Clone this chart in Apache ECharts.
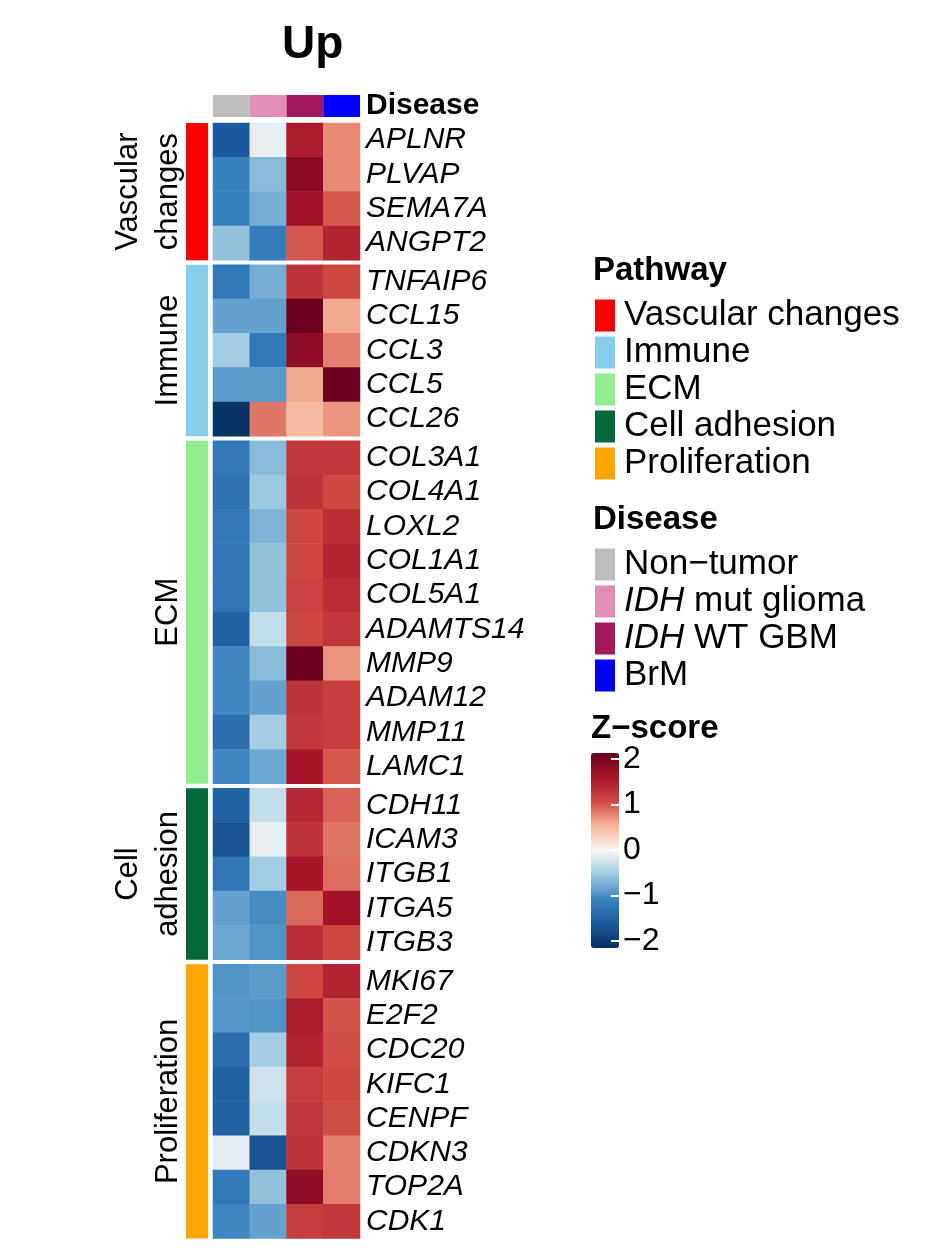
<!DOCTYPE html>
<html>
<head>
<meta charset="utf-8">
<script src="https://cdn.jsdelivr.net/npm/echarts@6/dist/echarts.min.js"></script>
<style>html,body{margin:0;padding:0;background:#fff}#c{width:931px;height:1250px}</style>
</head>
<body>
<div id="c"></div>
<script>
const diseases = ['Non\u2212tumor', 'IDH mut glioma', 'IDH WT GBM', 'BrM'];
const diseaseColors = ['#BEBEBE', '#E28DB5', '#A3195B', '#0000FF'];
const pathways = ['Vascular changes', 'Immune', 'ECM', 'Cell adhesion', 'Proliferation'];
const pathwayLabels = ['Vascular\nchanges', 'Immune', 'ECM', 'Cell\nadhesion', 'Proliferation'];
const pathwayColors = ['#FF0000', '#87CEEB', '#90EE90', '#03693A', '#FFA500'];

const vascularGenes = ['APLNR', 'PLVAP', 'SEMA7A', 'ANGPT2'];
const vascularValues = [
  [-1.6, -0.1, 1.55, 0.75],
  [-1.1, -0.65, 1.85, 0.75],
  [-1.1, -0.75, 1.65, 1.0],
  [-0.6, -1.15, 1.0, 1.45]
];
const immuneGenes = ['TNFAIP6', 'CCL15', 'CCL3', 'CCL5', 'CCL26'];
const immuneValues = [
  [-1.2, -0.75, 1.3, 1.1],
  [-0.85, -0.85, 2.1, 0.6],
  [-0.5, -1.2, 1.8, 0.8],
  [-0.9, -0.9, 0.6, 2.1],
  [-2.1, 0.85, 0.5, 0.7]
];
const ecmGenes = ['COL3A1', 'COL4A1', 'LOXL2', 'COL1A1', 'COL5A1', 'ADAMTS14', 'MMP9', 'ADAM12', 'MMP11', 'LAMC1'];
const ecmValues = [
  [-1.2, -0.65, 1.25, 1.25],
  [-1.3, -0.55, 1.3, 1.1],
  [-1.2, -0.7, 1.1, 1.35],
  [-1.25, -0.6, 1.1, 1.45],
  [-1.25, -0.6, 1.15, 1.35],
  [-1.5, -0.3, 1.1, 1.25],
  [-1.05, -0.65, 2.1, 0.7],
  [-1.05, -0.85, 1.3, 1.2],
  [-1.35, -0.5, 1.25, 1.2],
  [-1.05, -0.8, 1.6, 1.0]
];
const adhesionGenes = ['CDH11', 'ICAM3', 'ITGB1', 'ITGA5', 'ITGB3'];
const adhesionValues = [
  [-1.5, -0.3, 1.4, 0.95],
  [-1.7, -0.1, 1.3, 0.85],
  [-1.25, -0.5, 1.6, 0.9],
  [-0.85, -1.0, 0.92, 1.65],
  [-0.8, -0.95, 1.35, 1.1]
];
const prolifGenes = ['MKI67', 'E2F2', 'CDC20', 'KIFC1', 'CENPF', 'CDKN3', 'TOP2A', 'CDK1'];
const prolifValues = [
  [-0.95, -0.9, 1.1, 1.45],
  [-0.93, -0.95, 1.55, 1.02],
  [-1.35, -0.5, 1.45, 1.05],
  [-1.5, -0.25, 1.2, 1.08],
  [-1.5, -0.3, 1.25, 1.05],
  [-0.12, -1.7, 1.3, 0.8],
  [-1.2, -0.6, 1.8, 0.82],
  [-1.05, -0.85, 1.2, 1.25]
];
const colorbarTicks = [-2, -1, 0, 1, 2];

const groupGenes = [vascularGenes, immuneGenes, ecmGenes, adhesionGenes, prolifGenes];
const groupValues = [vascularValues, immuneValues, ecmValues, adhesionValues, prolifValues];

const FONT = 'Liberation Sans, Arial, Helvetica, sans-serif';
const rowH = 34.3, gapH = 4.5, top0 = 123;
const heatLeft = 213, heatW = 147, barLeft = 186, barW = 22;

const grid = [], xAxis = [], yAxis = [], series = [];
let y = top0;
groupGenes.forEach((genes, i) => {
  const h = genes.length * rowH;
  grid.push({left: heatLeft, top: y, width: heatW, height: h, outerBoundsMode: 'none'});
  grid.push({left: barLeft, top: y, width: barW, height: h, outerBoundsMode: 'none'});
  xAxis.push({gridIndex: 2 * i, type: 'category', data: diseases, show: false});
  xAxis.push({gridIndex: 2 * i + 1, type: 'category', data: ['p'], show: false});
  yAxis.push({gridIndex: 2 * i, type: 'category', data: genes, inverse: true, position: 'right',
    axisLine: {show: false}, axisTick: {show: false}, splitLine: {show: false},
    axisLabel: {interval: 0, fontStyle: 'italic', fontSize: 30, margin: 6, color: '#000', fontFamily: FONT}});
  yAxis.push({gridIndex: 2 * i + 1, type: 'value', min: 0, max: 1,
    axisLine: {show: false}, axisTick: {show: false}, axisLabel: {show: false}, splitLine: {show: false},
    name: pathwayLabels[i], nameLocation: 'middle', nameRotate: 90, nameGap: -2,
    nameTextStyle: {fontSize: 31, lineHeight: 40, color: '#000', fontFamily: FONT}});
  y += h + gapH;
});

// heatmap series
groupValues.forEach((vals, i) => {
  const data = [];
  vals.forEach((row, r) => row.forEach((v, c) => data.push([c, r, v])));
  series.push({type: 'heatmap', xAxisIndex: 2 * i, yAxisIndex: 2 * i, data: data,
    emphasis: {disabled: true}, itemStyle: {borderWidth: 0}});
});
// pathway annotation bars
pathways.forEach((p, i) => {
  series.push({type: 'bar', name: p, xAxisIndex: 2 * i + 1, yAxisIndex: 2 * i + 1, data: [1],
    barWidth: '100%', itemStyle: {color: pathwayColors[i]}, emphasis: {disabled: true}, silent: true});
});

// disease annotation
const dg = grid.length;
grid.push({left: heatLeft, top: 95, width: heatW, height: 22, outerBoundsMode: 'none'});
xAxis.push({gridIndex: dg, type: 'category', data: diseases, show: false});
yAxis.push({gridIndex: dg, type: 'value', min: 0, max: 1, show: false});
yAxis.push({gridIndex: dg, type: 'category', data: ['Disease'], position: 'right',
  axisLine: {show: false}, axisTick: {show: false}, splitLine: {show: false},
  axisLabel: {fontWeight: 'bold', fontSize: 30, margin: 6, color: '#000', fontFamily: FONT}});
const dgY = yAxis.length - 2;
diseases.forEach((d, i) => {
  const data = diseases.map((_, j) => j === i ? 1 : '-');
  series.push({type: 'bar', name: d, xAxisIndex: xAxis.length - 1, yAxisIndex: dgY, data: data,
    barWidth: '100%', barGap: '-100%', itemStyle: {color: diseaseColors[i]}, emphasis: {disabled: true}, silent: true});
});

// colorbar tick axis: a narrow grid on the bar's right edge; split lines give the white tick dashes
const cg = grid.length;
grid.push({left: 611, top: 759, width: 8, height: 182, outerBoundsMode: 'none', zlevel: 2, z: 50});
xAxis.push({gridIndex: cg, type: 'value', show: false, zlevel: 2});
yAxis.push({gridIndex: cg, type: 'value', min: -2, max: 2, interval: 1, position: 'right', z: 50, zlevel: 2,
  axisLine: {show: false}, axisTick: {show: false},
  splitLine: {show: true, lineStyle: {color: '#fff', width: 2}},
  axisLabel: {fontSize: 32, margin: 4, color: '#000', fontFamily: FONT,
    formatter: v => v < 0 ? '\u2212' + Math.abs(v) : String(v)}});

const legendText = {fontSize: 35, lineHeight: 32, color: '#000', fontFamily: FONT, padding: [0, 0, 0, 4],
  rich: {i: {fontStyle: 'italic', fontSize: 35, lineHeight: 32, color: '#000', fontFamily: FONT}}};

const option = {
  animation: false,
  backgroundColor: '#fff',
  textStyle: {fontFamily: FONT},
  title: [
    {text: 'Up', left: 282, top: 22, padding: 0, textStyle: {fontSize: 46, fontWeight: 'bold', color: '#000', fontFamily: FONT}},
    {text: 'Pathway', left: 593, top: 254, padding: 0, textStyle: {fontSize: 33, fontWeight: 'bold', color: '#000', fontFamily: FONT}},
    {text: 'Disease', left: 593, top: 503, padding: 0, textStyle: {fontSize: 33, fontWeight: 'bold', color: '#000', fontFamily: FONT}},
    {text: 'Z\u2212score', left: 591, top: 712, padding: 0, textStyle: {fontSize: 33, fontWeight: 'bold', color: '#000', fontFamily: FONT}}
  ],
  legend: [
    {data: pathways, orient: 'vertical', left: 595, top: 298, padding: 0, itemWidth: 20, itemHeight: 32, itemGap: 2,
      icon: 'rect', selectedMode: false, textStyle: legendText},
    {data: diseases, orient: 'vertical', left: 595, top: 547, padding: 0, itemWidth: 20, itemHeight: 32, itemGap: 2,
      icon: 'rect', selectedMode: false, textStyle: legendText,
      formatter: n => n.indexOf('IDH ') === 0 ? '{i|IDH} ' + n.slice(4) : n}
  ],
  visualMap: {
    type: 'continuous', min: -2.14, max: 2.14, seriesIndex: [0, 1, 2, 3, 4], orient: 'vertical',
    left: 591, top: 753, itemWidth: 28, itemHeight: 195, padding: 0, calculable: false, hoverLink: false,
    text: null, showLabel: false, z: 1,
    inRange: {color: ['#053061', '#1B5A9C', '#3A84C0', '#9DCAE1', '#F7F7F7', '#F7B799', '#CF4A42', '#A8142B', '#67001F']}
  },
  grid: grid, xAxis: xAxis, yAxis: yAxis, series: series
};
const chart = echarts.init(document.getElementById('c'), null, {renderer: 'canvas'});
chart.setOption(option);
</script>
</body>
</html>
